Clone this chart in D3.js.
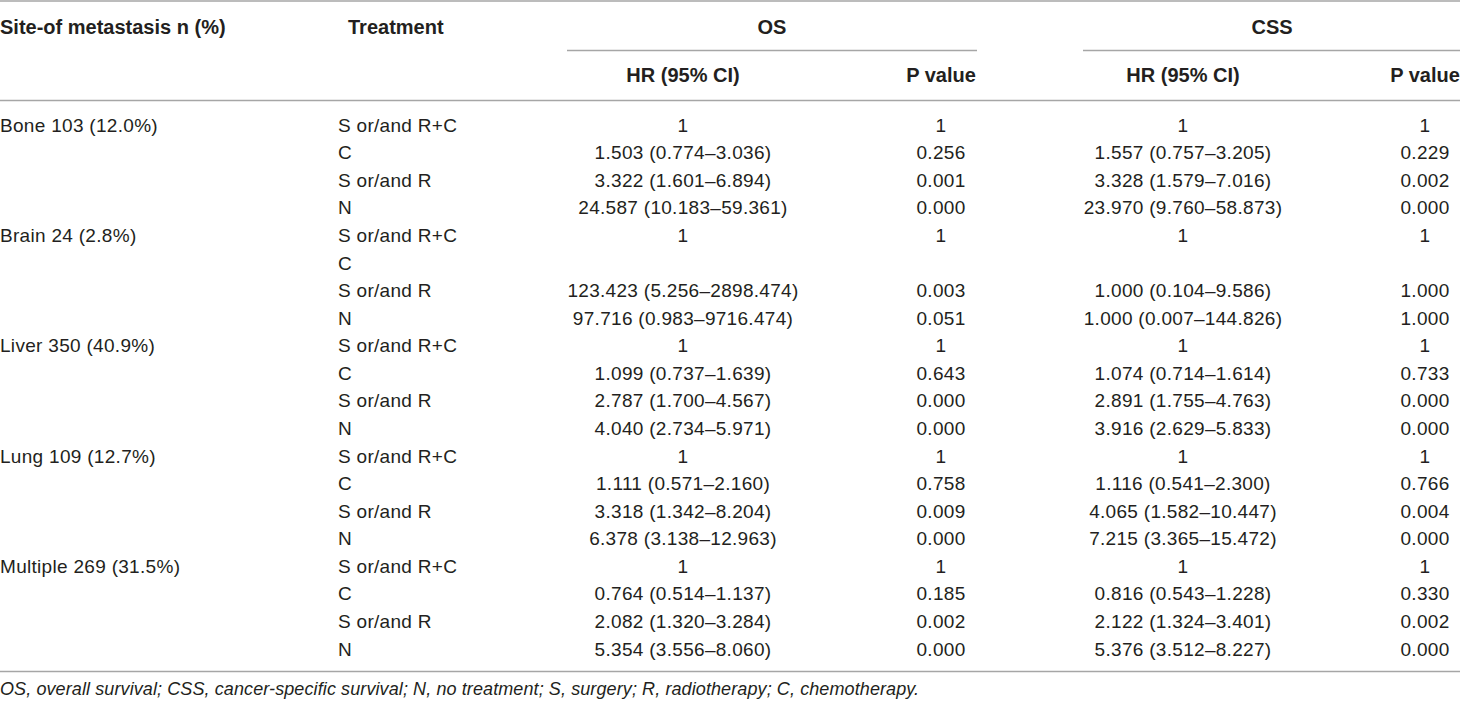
<!DOCTYPE html>
<meta charset="utf-8">
<html>
<head>
  <title>Site of metastasis by treatment</title>
  <style>
    body { margin: 0; background: #fff; }
    svg { display: block; }
    text { font-family: "Liberation Sans", Arial, sans-serif; fill: #231f20; }
    .head { font-weight: bold; font-size: 20px; }
    .cell { font-size: 19px; letter-spacing: 0.3px; }
    .note { font-size: 18px; font-style: italic; letter-spacing: 0.1px; }
    .rule { stroke: #a6a6a6; stroke-width: 1.6; }
  </style>
</head>
<body>
<svg id="table" width="1460" height="703"></svg>

<script src="https://d3js.org/d3.v7.min.js"></script>
<script>

// --- table data ---
const sites = ["Bone 103 (12.0%)", "Brain 24 (2.8%)", "Liver 350 (40.9%)", "Lung 109 (12.7%)", "Multiple 269 (31.5%)"];
const treatments = ["S or/and R+C", "C", "S or/and R", "N"];

const osHR = [
  "1", "1.503 (0.774–3.036)", "3.322 (1.601–6.894)", "24.587 (10.183–59.361)",
  "1", "", "123.423 (5.256–2898.474)", "97.716 (0.983–9716.474)",
  "1", "1.099 (0.737–1.639)", "2.787 (1.700–4.567)", "4.040 (2.734–5.971)",
  "1", "1.111 (0.571–2.160)", "3.318 (1.342–8.204)", "6.378 (3.138–12.963)",
  "1", "0.764 (0.514–1.137)", "2.082 (1.320–3.284)", "5.354 (3.556–8.060)"
];
const osP = [
  "1", "0.256", "0.001", "0.000",
  "1", "", "0.003", "0.051",
  "1", "0.643", "0.000", "0.000",
  "1", "0.758", "0.009", "0.000",
  "1", "0.185", "0.002", "0.000"
];
const cssHR = [
  "1", "1.557 (0.757–3.205)", "3.328 (1.579–7.016)", "23.970 (9.760–58.873)",
  "1", "", "1.000 (0.104–9.586)", "1.000 (0.007–144.826)",
  "1", "1.074 (0.714–1.614)", "2.891 (1.755–4.763)", "3.916 (2.629–5.833)",
  "1", "1.116 (0.541–2.300)", "4.065 (1.582–10.447)", "7.215 (3.365–15.472)",
  "1", "0.816 (0.543–1.228)", "2.122 (1.324–3.401)", "5.376 (3.512–8.227)"
];
const cssP = [
  "1", "0.229", "0.002", "0.000",
  "1", "", "1.000", "1.000",
  "1", "0.733", "0.000", "0.000",
  "1", "0.766", "0.004", "0.000",
  "1", "0.330", "0.002", "0.000"
];

const groupHeads = ["OS", "CSS"];
const subHeads = ["HR (95% CI)", "P value", "HR (95% CI)", "P value"];
const footnote = "OS, overall survival; CSS, cancer-specific survival; N, no treatment; S, surgery; R, radiotherapy; C, chemotherapy.";

// --- layout ---
const svg = d3.select("#table"),
      width = +svg.attr("width");

const nRows = sites.length * treatments.length;

// row centre positions
const y = d3.scaleLinear()
  .domain([0, nRows - 1])
  .range([125, 649]);

// centres of the four numeric columns
const colX = d3.scaleOrdinal()
  .domain(["osHR", "osP", "cssHR", "cssP"])
  .range([683, 941, 1183, 1425]);

const siteX = 0, treatX = 338;

// horizontal rules
const rules = [
  {x1: 0, x2: width, y: 1},
  {x1: 567, x2: 977, y: 50.5},
  {x1: 1083, x2: width, y: 50.5},
  {x1: 0, x2: width, y: 100.5},
  {x1: 0, x2: width, y: 671.5}
];
svg.append("g")
  .selectAll("line")
  .data(rules)
  .join("line")
  .attr("class", "rule")
  .attr("x1", d => d.x1)
  .attr("x2", d => d.x2)
  .attr("y1", d => d.y)
  .attr("y2", d => d.y);

// header
const head = svg.append("g").attr("class", "head");
head.append("text").attr("x", siteX).attr("y", 27).attr("dy", "0.35em").text("Site-of metastasis n (%)");
head.append("text").attr("x", 348).attr("y", 27).attr("dy", "0.35em").text("Treatment");

head.selectAll(".grp")
  .data(groupHeads)
  .join("text")
  .attr("class", "grp")
  .attr("x", (d, i) => i === 0 ? 772 : 1272)
  .attr("y", 27)
  .attr("dy", "0.35em")
  .attr("text-anchor", "middle")
  .text(d => d);

head.selectAll(".sub")
  .data(subHeads)
  .join("text")
  .attr("class", "sub")
  .attr("x", (d, i) => colX(colX.domain()[i]))
  .attr("y", 75)
  .attr("dy", "0.35em")
  .attr("text-anchor", "middle")
  .text(d => d);

// body rows
const rows = d3.range(nRows).map(i => ({
  site: i % treatments.length === 0 ? sites[i / treatments.length] : "",
  treat: treatments[i % treatments.length],
  osHR: osHR[i], osP: osP[i], cssHR: cssHR[i], cssP: cssP[i]
}));

const body = svg.append("g").attr("class", "cell");

const row = body.selectAll("g")
  .data(rows)
  .join("g")
  .attr("transform", (d, i) => `translate(0,${y(i)})`);

row.append("text").attr("x", siteX).attr("dy", "0.35em").text(d => d.site);
row.append("text").attr("x", treatX).attr("dy", "0.35em").text(d => d.treat);

colX.domain().forEach(key => {
  row.append("text")
    .attr("x", colX(key))
    .attr("dy", "0.35em")
    .attr("text-anchor", "middle")
    .text(d => d[key]);
});

// footnote
svg.append("text")
  .attr("class", "note")
  .attr("x", 0)
  .attr("y", 689)
  .attr("dy", "0.35em")
  .text(footnote);

</script>
</body>
</html>
